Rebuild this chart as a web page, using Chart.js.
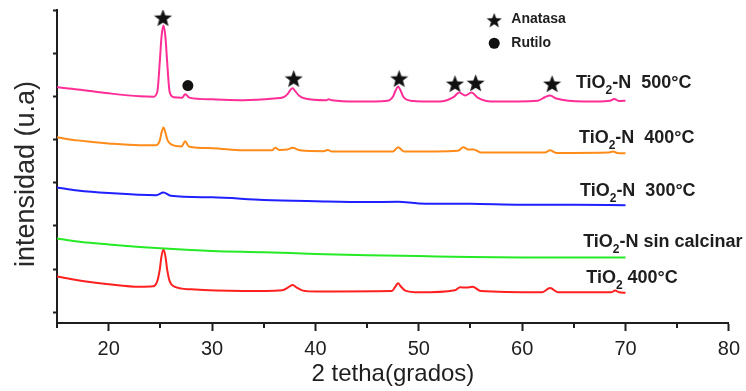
<!DOCTYPE html>
<html>
<head>
<meta charset="utf-8">
<script src="https://cdn.jsdelivr.net/npm/chart.js@4"></script>
<style>
  html, body { margin: 0; padding: 0; background: #fff; }
  canvas { display: block; }
</style>
</head>
<body>
<canvas id="xrd" width="746" height="391"></canvas>
<script>
// 2 theta (grados) and intensity (u.a, stacked offsets)
const x500 = [15, 17, 20, 23, 24.3, 24.7, 24.95, 25.1, 25.3, 25.5, 25.65, 25.9, 26.3, 27.1, 27.4, 27.8, 30, 33, 36, 36.9, 37.3, 37.55, 37.8, 38.05, 38.4, 39, 41, 41.3, 41.6, 44, 47, 47.5, 47.75, 48.0, 48.25, 48.5, 49.2, 52, 53.4, 53.9, 54.5, 55.1, 55.7, 57, 61.5, 62.2, 62.7, 63.3, 66, 68.5, 68.9, 69.4, 70];
const y500 = [5.21, 5.16, 5.07, 5.00, 4.99, 5.10, 5.82, 6.35, 6.64, 6.35, 5.82, 5.10, 4.98, 4.97, 5.05, 4.97, 4.93, 4.91, 4.95, 4.98, 5.05, 5.14, 5.19, 5.12, 5.02, 4.95, 4.91, 4.93, 4.91, 4.88, 4.90, 4.99, 5.13, 5.23, 5.13, 4.99, 4.90, 4.88, 4.99, 5.09, 5.02, 5.09, 4.97, 4.88, 4.90, 4.98, 5.02, 4.95, 4.88, 4.90, 4.94, 4.89, 4.90];

const x400N = [15, 17, 20, 23, 24.6, 24.95, 25.1, 25.3, 25.5, 25.7, 26.1, 27.05, 27.4, 27.75, 30, 33, 35.8, 36.1, 36.5, 37.3, 37.8, 38.5, 40.8, 41.2, 41.6, 47.5, 48.0, 48.6, 53.8, 54.3, 54.8, 55.3, 56, 62.2, 62.7, 63.3, 68.4, 68.8, 69.2, 70];
const y400N = [4.05, 3.98, 3.91, 3.87, 3.87, 3.98, 4.15, 4.28, 4.15, 3.98, 3.88, 3.84, 3.96, 3.84, 3.80, 3.75, 3.75, 3.81, 3.76, 3.77, 3.81, 3.75, 3.73, 3.76, 3.72, 3.72, 3.82, 3.72, 3.74, 3.82, 3.77, 3.77, 3.70, 3.70, 3.75, 3.69, 3.70, 3.72, 3.69, 3.68];

const x300 = [15, 17, 20, 24.6, 25.3, 26.0, 30, 35, 40, 45, 48, 50, 55, 60, 65, 70];
const y300 = [2.89, 2.82, 2.76, 2.71, 2.77, 2.70, 2.66, 2.60, 2.57, 2.55, 2.56, 2.52, 2.51, 2.49, 2.49, 2.48];

const xSin = [15, 17, 20, 25, 30, 35, 40, 45, 50, 55, 60, 65, 70];
const ySin = [1.71, 1.64, 1.57, 1.48, 1.42, 1.39, 1.35, 1.32, 1.30, 1.28, 1.27, 1.27, 1.27];

const xTiO2 = [15, 17, 20, 23, 24.3, 24.7, 24.95, 25.1, 25.3, 25.5, 25.65, 25.9, 26.3, 28, 33, 36.8, 37.4, 37.8, 38.2, 38.8, 40, 47.4, 47.75, 48.0, 48.25, 48.7, 50, 53.5, 54.0, 54.6, 55.2, 56, 61.9, 62.7, 63.5, 68.6, 69, 69.4, 70];
const yTiO2 = [0.83, 0.74, 0.65, 0.59, 0.60, 0.72, 1.00, 1.28, 1.46, 1.28, 1.00, 0.72, 0.60, 0.53, 0.49, 0.51, 0.58, 0.63, 0.57, 0.50, 0.48, 0.49, 0.60, 0.67, 0.60, 0.50, 0.46, 0.51, 0.58, 0.57, 0.59, 0.49, 0.46, 0.56, 0.46, 0.46, 0.50, 0.46, 0.45];

// phase markers
const anatasaX = [25.25, 37.9, 48.1, 53.5, 55.5, 62.9];
const anatasaY = [6.83, 5.42, 5.42, 5.30, 5.32, 5.30];
const rutiloX = [27.66];
const rutiloY = [5.25];

const minorTicks = [15, 25, 35, 45, 55, 65, 75];

const FONT = "'Liberation Sans', Arial, sans-serif";
const INK = '#1e1e1e';

const pts = (xs, ys) => xs.map((x, i) => ({ x: x, y: ys[i] }));

function makeStar(size) {
  const c = document.createElement('canvas');
  c.width = size; c.height = size;
  const g = c.getContext('2d');
  const R = size / 2, r = R * 0.42;
  const cx = size / 2, cy = size / 2 + size * 0.06;
  g.beginPath();
  for (let i = 0; i < 10; i++) {
    const a = -Math.PI / 2 + i * Math.PI / 5;
    const rad = i % 2 ? r : R;
    g.lineTo(cx + rad * Math.cos(a), cy + rad * Math.sin(a));
  }
  g.closePath();
  g.fillStyle = '#111';
  g.fill();
  return c;
}
const bigStar = makeStar(19);
const smallStar = makeStar(16);

const seriesLabels = [
  { pre: 'TiO', sub: '2', post: '-N  500°C', x: 65.2, y: 5.19 },
  { pre: 'TiO', sub: '2', post: '-N  400°C', x: 65.5, y: 3.91 },
  { pre: 'TiO', sub: '2', post: '-N  300°C', x: 65.6, y: 2.69 },
  { pre: 'TiO', sub: '2', post: '-N sin calcinar', x: 65.9, y: 1.50 },
  { pre: 'TiO', sub: '2', post: ' 400°C', x: 66.2, y: 0.67 }
];

const overlay = {
  id: 'overlay',
  afterDraw(chart) {
    const ctx = chart.ctx;
    const xs = chart.scales.x, ys = chart.scales.y;
    ctx.save();

    // minor ticks on the x axis
    ctx.strokeStyle = INK;
    ctx.lineWidth = 2;
    const b = chart.chartArea.bottom;
    minorTicks.forEach(v => {
      const px = Math.round(xs.getPixelForValue(v));
      ctx.beginPath();
      ctx.moveTo(px, b);
      ctx.lineTo(px, b + 5);
      ctx.stroke();
    });

    // y title, sits a little below the axis centre in the original
    ctx.save();
    ctx.translate(27, 174);
    ctx.rotate(-Math.PI / 2);
    ctx.fillStyle = '#2a2a2a';
    ctx.font = '27px ' + FONT;
    ctx.textAlign = 'center';
    ctx.textBaseline = 'middle';
    ctx.fillText('intensidad (u.a)', 0, 0);
    ctx.restore();

    // labels next to each pattern
    ctx.fillStyle = INK;
    ctx.textBaseline = 'alphabetic';
    ctx.textAlign = 'left';
    seriesLabels.forEach(l => {
      let px = xs.getPixelForValue(l.x);
      const py = ys.getPixelForValue(l.y);
      ctx.font = 'bold 18px ' + FONT;
      ctx.fillText(l.pre, px, py);
      px += ctx.measureText(l.pre).width;
      ctx.font = 'bold 12px ' + FONT;
      ctx.fillText(l.sub, px, py + 6);
      px += ctx.measureText(l.sub).width;
      ctx.font = 'bold 18px ' + FONT;
      ctx.fillText(l.post, px, py);
    });

    // legend for the phase symbols
    const lx = xs.getPixelForValue(57.3);
    const tx = xs.getPixelForValue(58.95);
    const y1 = ys.getPixelForValue(6.77);
    const y2 = ys.getPixelForValue(6.23);
    ctx.drawImage(smallStar, lx - 8, y1 - 8);
    ctx.beginPath();
    ctx.arc(lx, y2, 5.5, 0, Math.PI * 2);
    ctx.fillStyle = '#111';
    ctx.fill();
    ctx.fillStyle = INK;
    ctx.font = 'bold 14px ' + FONT;
    ctx.textBaseline = 'middle';
    ctx.fillText('Anatasa', tx, y1 - 1);
    ctx.fillText('Rutilo', tx, y2);
    ctx.restore();
  }
};

const line = (data, color) => ({
  data: data,
  borderColor: color,
  borderWidth: 2,
  pointRadius: 0,
  fill: false,
  cubicInterpolationMode: 'monotone'
});

new Chart(document.getElementById('xrd'), {
  type: 'line',
  data: {
    datasets: [
      line(pts(x500, y500), '#ff2d96'),
      line(pts(x400N, y400N), '#ff8c1a'),
      line(pts(x300, y300), '#1f1fff'),
      line(pts(xSin, ySin), '#25ea25'),
      line(pts(xTiO2, yTiO2), '#ff2020'),
      {
        data: pts(anatasaX, anatasaY),
        showLine: false,
        pointStyle: bigStar,
        pointRadius: 9,
        pointHoverRadius: 9
      },
      {
        data: pts(rutiloX, rutiloY),
        showLine: false,
        pointStyle: 'circle',
        pointRadius: 5.5,
        backgroundColor: '#111',
        borderColor: '#111',
        borderWidth: 0
      }
    ]
  },
  options: {
    responsive: false,
    animation: false,
    devicePixelRatio: 1,
    layout: { padding: { top: 10, right: 16, left: 0, bottom: 0 } },
    plugins: { legend: { display: false }, tooltip: { enabled: false } },
    scales: {
      x: {
        type: 'linear',
        min: 15,
        max: 80,
        afterFit(scale) { scale.height = 68; },
        ticks: {
          stepSize: 10,
          includeBounds: false,
          padding: 6,
          color: INK,
          font: { family: FONT, size: 20 }
        },
        grid: { drawOnChartArea: false, drawTicks: true, tickLength: 8, tickWidth: 2, tickColor: INK },
        border: { display: true, width: 2, color: INK },
        title: {
          display: true,
          text: '2 tetha(grados)',
          color: INK,
          font: { family: FONT, size: 24 },
          padding: { top: 0, bottom: 2 }
        }
      },
      y: {
        type: 'linear',
        min: -0.25,
        max: 7,
        afterFit(scale) { scale.width = 57; },
        ticks: { stepSize: 1, includeBounds: false, display: false },
        grid: { drawOnChartArea: false, drawTicks: true, tickLength: 4, tickWidth: 2, tickColor: INK },
        border: { display: true, width: 2, color: INK }
      }
    }
  },
  plugins: [overlay]
});
</script>
</body>
</html>
